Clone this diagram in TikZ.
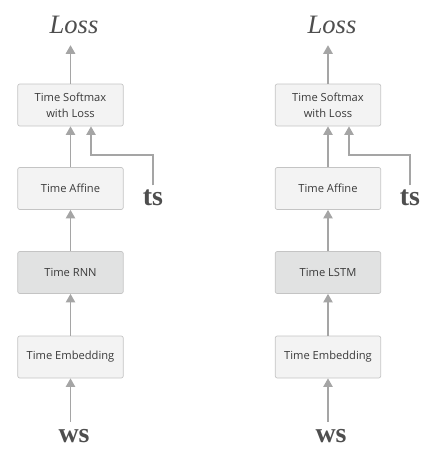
\documentclass[tikz,border=0pt]{standalone}
\usepackage{fontspec}
\setmainfont{Liberation Serif}
\setsansfont{Open Sans}
\usepackage{xcolor}
\usetikzlibrary{arrows.meta}

\definecolor{boxfill}{HTML}{F3F3F3}
\definecolor{rnnfill}{HTML}{E1E2E2}
\definecolor{boxline}{HTML}{C4C4C4}
\definecolor{arrgray}{HTML}{A5A5A5}
\definecolor{txtgray}{HTML}{3A3A3A}

\tikzset{
  layer/.style={draw=boxline, fill=boxfill, rounded corners=1.5pt, line width=0.5pt,
    minimum width=10.55*0.2646cm, minimum height=4.2*0.2646cm, align=center,
    font=\sffamily\fontsize{8.4}{12}\selectfont, text=txtgray},
  rnnlayer/.style={layer, fill=rnnfill},
  flow/.style={draw=arrgray, line width=1.3pt, -{Triangle[length=6.5pt,width=7pt]}},
  lossword/.style={font=\fontsize{20}{24}\selectfont\itshape, text=txtgray!90},
  dataword/.style={font=\fontsize{21}{24}\selectfont\bfseries, text=txtgray!90}
}

\begin{document}
\begin{tikzpicture}[x=0.2646cm, y=-0.2646cm]
        \useasboundingbox (0,0) rectangle (43.3,46.1);

        % RNN language model
        \node [lossword] (loss1) at (7.4,2.5) {Loss};
        \node [layer] (sm1) at (7.05,10.5) {Time Softmax\\with Loss};
        \node [layer] (af1) at (7.05,18.85) {Time Affine};
        \node [rnnlayer] (rnn1) at (7.05,27.25) {Time RNN};
        \node [layer] (emb1) at (7.05,35.7) {Time Embedding};
        \node [dataword] (ws1) at (7.4,43.6) {ws};
        \node [dataword] (ts1) at (15.3,19.8) {ts};
        \coordinate (k1) at (9.1,15.5);

        \draw [flow, shorten >=5pt] (sm1) -- (sm1 |- loss1.south);
        \draw [flow] (af1) -- (sm1);
        \draw [flow] (rnn1) -- (af1);
        \draw [flow] (emb1) -- (rnn1);
        \draw [flow, shorten <=2pt] (ws1.north -| emb1) -- (emb1);
        \draw [flow] (ts1.north) |- (k1) -- (k1 |- sm1.south);

        % LSTM language model
        \node [lossword] (loss2) at (33.2,2.5) {Loss};
        \node [layer] (sm2) at (32.8,10.5) {Time Softmax\\with Loss};
        \node [layer] (af2) at (32.8,18.85) {Time Affine};
        \node [rnnlayer] (lstm2) at (32.8,27.25) {Time LSTM};
        \node [layer] (emb2) at (32.8,35.7) {Time Embedding};
        \node [dataword] (ws2) at (33.1,43.6) {ws};
        \node [dataword] (ts2) at (41.0,19.8) {ts};
        \coordinate (k2) at (34.9,15.5);

        \draw [flow, shorten >=5pt] (sm2) -- (sm2 |- loss2.south);
        \draw [flow] (af2) -- (sm2);
        \draw [flow] (lstm2) -- (af2);
        \draw [flow] (emb2) -- (lstm2);
        \draw [flow, shorten <=2pt] (ws2.north -| emb2) -- (emb2);
        \draw [flow] (ts2.north) |- (k2) -- (k2 |- sm2.south);
    \end{tikzpicture}
\end{document}
